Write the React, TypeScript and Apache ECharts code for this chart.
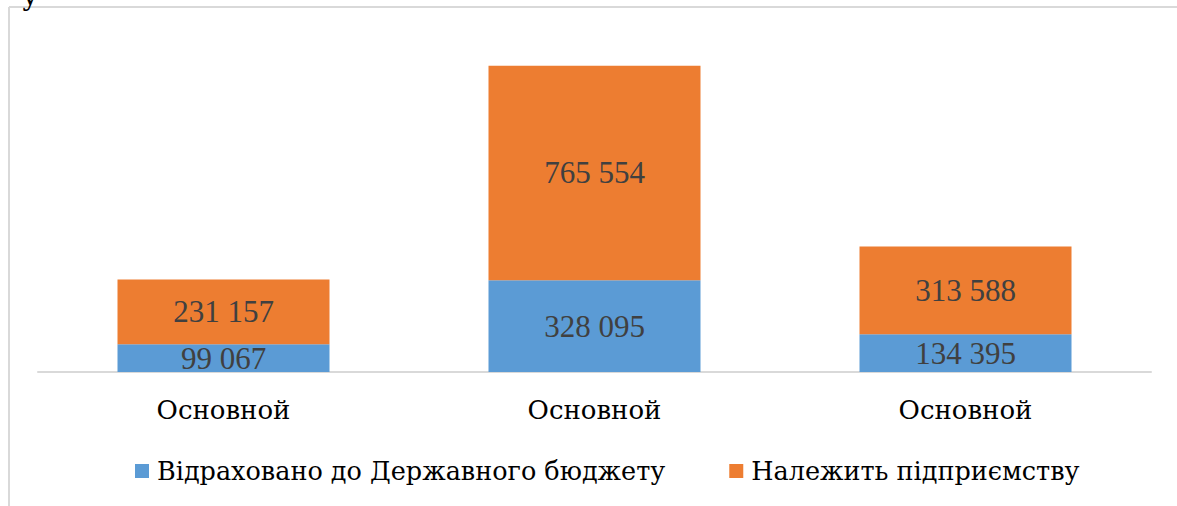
import React, { useEffect, useRef } from "react";
import * as echarts from "echarts";

const categories = ["Основной", "Основной", "Основной"];
const budgetValues = [99067, 328095, 134395];
const enterpriseValues = [231157, 765554, 313588];
const seriesNames = ["Відраховано до Державного бюджету", "Належить підприємству"];

const fmt = (v: number) => {
  const s = String(Math.round(v));
  return s.replace(/\B(?=(\d{3})+(?!\d))/g, " ");
};

export default function App() {
  const ref = useRef<HTMLDivElement>(null);
  useEffect(() => {
    if (!ref.current) return;
    const chart = echarts.init(ref.current, null, { renderer: "svg" });
    const font = "Liberation Serif";
    const cyr = "DejaVu Serif";
    const labelStyle = {
      show: true,
      position: "inside" as const,
      color: "#404040",
      fontFamily: font,
      fontSize: 31,
      formatter: (p: any) => fmt(p.value),
    };
    chart.setOption({
      animation: false,
      backgroundColor: "#ffffff",
      textStyle: { fontFamily: font },
      grid: { left: 38, right: 26, top: 36, bottom: 134, containLabel: false },
      legend: {
        left: 130,
        top: 453,
        itemWidth: 14,
        itemHeight: 14,
        itemGap: 64,
        icon: "rect",
        textStyle: { fontFamily: cyr, fontSize: 25.5, color: "#000000", padding: [0, 0, 0, 3] },
        data: seriesNames,
      },
      xAxis: {
        type: "category",
        data: categories,
        axisLine: { show: true, lineStyle: { color: "#d9d9d9", width: 2 } },
        axisTick: { show: false },
        axisLabel: { fontFamily: cyr, fontSize: 26, color: "#000000", margin: 25 },
      },
      yAxis: {
        type: "value",
        min: 0,
        max: 1200000,
        show: false,
        splitLine: { show: false },
      },
      series: [
        {
          name: seriesNames[0],
          type: "bar",
          stack: "total",
          barWidth: 212,
          data: budgetValues,
          itemStyle: { color: "#5B9BD5" },
          label: labelStyle,
        },
        {
          name: seriesNames[1],
          type: "bar",
          stack: "total",
          barWidth: 212,
          data: enterpriseValues,
          itemStyle: { color: "#ED7D31" },
          label: labelStyle,
        },
      ],
      graphic: [
        {
          type: "line",
          shape: { x1: 9, y1: 7, x2: 1177, y2: 7 },
          style: { stroke: "#d9d9d9", lineWidth: 2 },
        },
        {
          type: "line",
          shape: { x1: 9, y1: 7, x2: 9, y2: 506 },
          style: { stroke: "#d9d9d9", lineWidth: 2 },
        },
        {
          type: "text",
          x: 22,
          y: -19,
          style: { text: "у", fontFamily: cyr, fontSize: 28, fill: "#000000", verticalAlign: "top" },
        },
      ],
    });
    return () => chart.dispose();
  }, []);
  return (
    <div
      ref={ref}
      style={{ position: "absolute", left: 0, top: 0, width: 1177, height: 506, background: "#fff" }}
    />
  );
}
